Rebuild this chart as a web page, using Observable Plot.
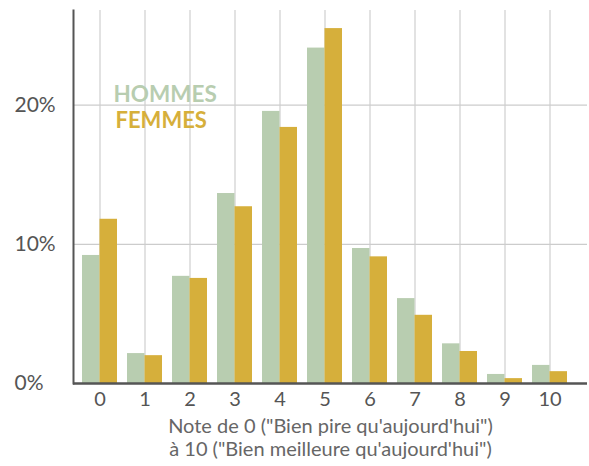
<!DOCTYPE html>
<html><head><meta charset="utf-8">
<script src="https://cdn.jsdelivr.net/npm/d3@7"></script>
<script src="https://cdn.jsdelivr.net/npm/@observablehq/plot@0.6"></script>
<style>body{margin:0;background:#fff}</style>
</head><body><div id="chart"></div>
<script>
const notes = ["0","1","2","3","4","5","6","7","8","9","10"];
const hommes = [9.2, 2.15, 7.7, 13.65, 19.55, 24.1, 9.7, 6.1, 2.85, 0.65, 1.3];
const femmes = [11.8, 2.0, 7.55, 12.7, 18.4, 25.5, 9.1, 4.9, 2.3, 0.35, 0.85];
const yTicks = [0, 10, 20];
const seriesNames = ["HOMMES", "FEMMES"];
const colors = ["#b8cdb0", "#d6af3b"];
const captionLines = ["Note de 0 (\"Bien pire qu'aujourd'hui\")", "à 10 (\"Bien meilleure qu'aujourd'hui\")"];

const data = notes.map((n, i) => ({note: n, hommes: hommes[i], femmes: femmes[i]}));
const font = "Lato";
const chart = Plot.plot({
  width: 589, height: 466,
  marginTop: 10, marginLeft: 73, marginRight: 2, marginBottom: 83,
  style: {fontFamily: font, background: "#fff"},
  x: {domain: notes, range: [74, 575], paddingInner: 0.23, paddingOuter: 0.115, label: null, axis: null},
  y: {domain: [0, 26.8], label: null, axis: null},
  marks: [
    Plot.gridX({stroke: "#d9d9d9", strokeOpacity: 1, strokeWidth: 1.5}),
    Plot.ruleY(yTicks.filter(d => d > 0), {stroke: "#cccccc", strokeWidth: 1.2}),
    Plot.barY(data, {x: "note", y: "hommes", fill: colors[0], insetRight: 17.5}),
    Plot.barY(data, {x: "note", y: "femmes", fill: colors[1], insetLeft: 17.5}),
    Plot.ruleY([0], {stroke: "#555", strokeWidth: 2.5}),
    Plot.frame({anchor: "left", stroke: "#555", strokeWidth: 2}),
    Plot.axisX({tickSize: 0, tickPadding: 8, fontSize: 20, fill: "#555", label: null}),
    Plot.text(yTicks, {y: d => d, text: d => d + "%", frameAnchor: "left", textAnchor: "start", dx: -59, fontSize: 21, fill: "#555"}),
    Plot.text([captionLines.join("\n")], {frameAnchor: "bottom", dy: 34, lineAnchor: "top", lineHeight: 1.12, fontSize: 20, fill: "#666"}),
    Plot.text([seriesNames[0]], {frameAnchor: "top-left", dx: 40, dy: 84, textAnchor: "start", lineAnchor: "middle", fontSize: 22.5, fontWeight: 700, fill: colors[0]}),
    Plot.text([seriesNames[1]], {frameAnchor: "top-left", dx: 42, dy: 110, textAnchor: "start", lineAnchor: "middle", fontSize: 22, fontWeight: 700, fill: colors[1]})
  ]
});
document.getElementById("chart").appendChild(chart);
</script>
</body></html>
